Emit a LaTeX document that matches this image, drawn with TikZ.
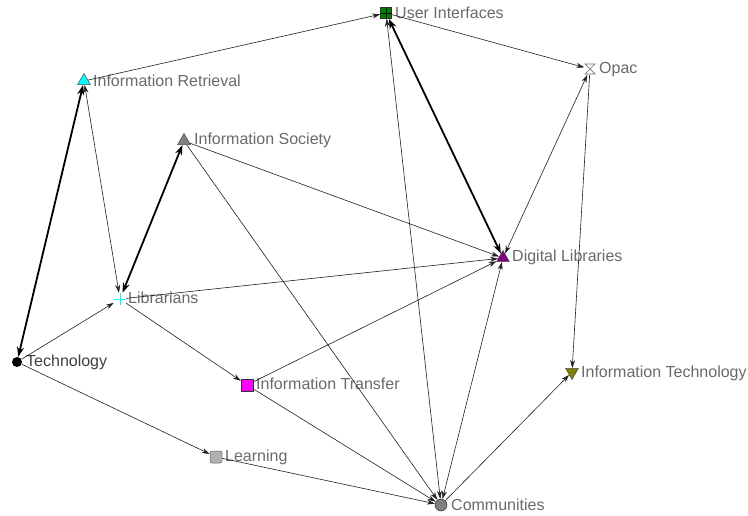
\documentclass[tikz,border=0pt]{standalone}
\usepackage{fontspec}
\setmainfont{Liberation Sans}
\usetikzlibrary{shapes.geometric,arrows.meta}
\definecolor{labgray}{HTML}{6A6A6A}
\definecolor{edgec}{HTML}{202020}
\definecolor{uigreen}{HTML}{008000}
\definecolor{dlpurple}{HTML}{800080}
\definecolor{olivec}{HTML}{808000}
\definecolor{learngray}{HTML}{B0B0B0}
\definecolor{magc}{HTML}{FF00FF}
\definecolor{cyanc}{HTML}{00FFFF}
\begin{document}
\begin{tikzpicture}[x=1pt,y=-1pt,
  lab/.style={text=labgray,font=\fontsize{16}{17}\selectfont,inner sep=0pt,anchor=west},
  mk/.style={inner sep=0pt,line width=0.5pt},
  tri/.style={mk,regular polygon,regular polygon sides=3,minimum size=15pt,draw=black!70},
  itri/.style={tri,shape border rotate=180},
  sq/.style={mk,rectangle,minimum size=11pt,draw=black!80},
  e/.style={edgec,line width=0.6pt,-{Stealth[length=8pt,width=5pt]}},
  ee/.style={edgec,line width=0.6pt,{Stealth[length=8pt,width=5pt]}-{Stealth[length=8pt,width=5pt]}},
  tk/.style={black,line width=1.8pt,{Stealth[length=10pt,width=7pt]}-{Stealth[length=10pt,width=7pt]}}]
\useasboundingbox (0,0) rectangle (748,516);
\fill[white] (0,0) rectangle (748,516);
% markers
\node[sq,fill=uigreen,
  path picture={\draw[black,line width=0.6pt] (path picture bounding box.north) -- (path picture bounding box.south)
  (path picture bounding box.west) -- (path picture bounding box.east);}] (ui) at (386,13) {};
\node[mk,minimum size=11pt] (opac) at (590,69) {};
\draw[black!55,line width=0.7pt,fill=white] ([shift={(-5,-5)}]opac.center) -- ([shift={(5,-5)}]opac.center)
  -- ([shift={(-5,5)}]opac.center) -- ([shift={(5,5)}]opac.center) -- cycle;
\node[tri,fill=cyanc] (ir) at (84,81) {};
\node[tri,fill=gray] (is) at (184,141) {};
\node[tri,fill=dlpurple] (dl) at (503,258) {};
\node[mk,minimum size=12pt,
  path picture={\draw[cyanc,line width=1pt] (path picture bounding box.north) -- (path picture bounding box.south)
  (path picture bounding box.west) -- (path picture bounding box.east);}] (lib) at (120,299) {};
\node[mk,circle,fill=black,minimum size=10pt] (tech) at (17,362) {};
\node[sq,fill=magc,minimum size=12pt] (itr) at (247,385) {};
\node[itri,fill=olivec] (itech) at (572,372) {};
\node[sq,fill=learngray,rounded corners=2pt,minimum size=12pt,draw=black!60] (learn) at (216,457) {};
\node[mk,circle,fill=gray,draw=black!80,minimum size=12pt] (comm) at (441,505) {};
% labels
\node[lab] (uit) at (395,13) {User Interfaces};
\node[lab] (opact) at (599,70) {Opac};
\node[lab] (irt) at (93,81) {Information Retrieval};
\node[lab] (ist) at (194,140) {Information Society};
\node[lab] (dlt) at (512,257) {Digital Libraries};
\node[lab] (libt) at (128,298) {Librarians};
\node[lab,text=black!75] (techt) at (26,362) {Technology};
\node[lab] (itrt) at (256,384) {Information Transfer};
\node[lab] (itecht) at (581,373) {Information Technology};
\node[lab] (learnt) at (225,457) {Learning};
\node[lab] (commt) at (451,505) {Communities};
% thin edges
\draw[e] (ui) -- (opac);
\draw[e] (ir) -- (ui);
\draw[ee] (opac) -- (dl);
\draw[e] (opac) -- (itech);
\draw[ee] (ir) -- (lib);
\draw[e] (is) -- (dl);
\draw[e] (is) -- (comm);
\draw[e] (lib) -- (dl);
\draw[e] (lib) -- (itr);
\draw[e] (tech) -- (lib);
\draw[e] (tech) -- (learn);
\draw[e] (learn) -- (comm);
\draw[e] (itr) -- (dl);
\draw[e] (itr) -- (comm);
\draw[ee] (comm) -- (ui);
\draw[ee] (comm) -- (dl);
\draw[e] (comm) -- (itech);
% thick edges
\draw[tk] (ui) -- (dl);
\draw[tk] (ir) -- (tech);
\draw[tk] (is) -- (lib);
\end{tikzpicture}
\end{document}
